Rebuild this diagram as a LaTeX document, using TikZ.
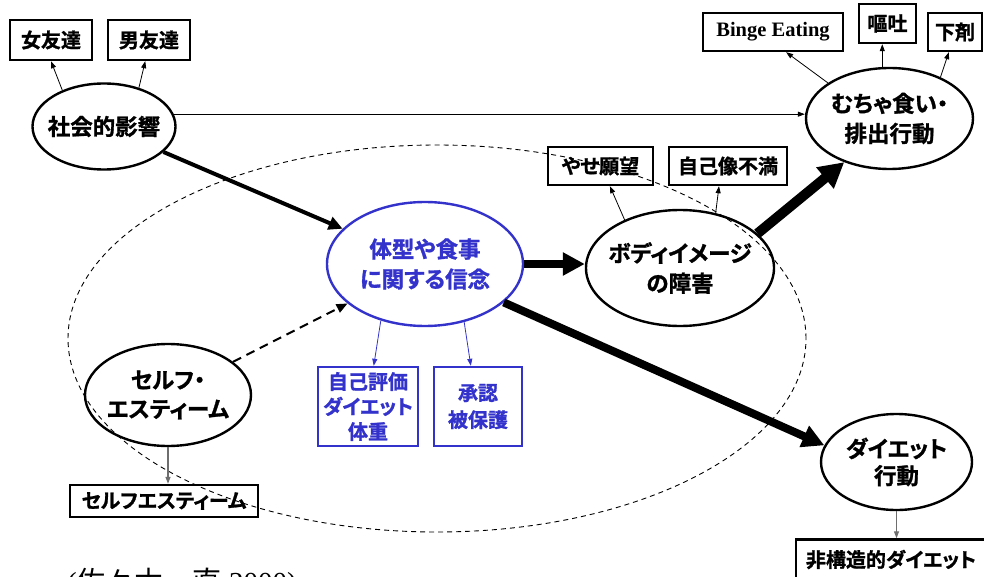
\documentclass[tikz,border=0pt]{standalone}
\usepackage{fontspec}
\usetikzlibrary{arrows.meta,shapes.geometric}
\setmainfont{Liberation Serif}
\newfontfamily\jp{Noto Sans CJK JP}[BoldFont={Noto Sans CJK JP Bold},BoldFeatures={FakeBold=1.2},RawFeature=+palt]
\newfontfamily\jpr{Noto Sans CJK JP}
\definecolor{bl}{RGB}{51,51,204}
\definecolor{gr}{RGB}{110,110,110}
\tikzset{
  ell/.style={ellipse, draw, line width=2.4pt, inner sep=0pt},
  etxt/.style={font=\jp\bfseries\fontsize{22.5}{30}\selectfont, align=center, inner sep=0pt},
  bx/.style={draw, line width=2.4pt, inner sep=0pt},
  btxt/.style={font=\jp\bfseries\fontsize{20}{25}\selectfont, align=center},
  thinarr/.style={line width=0.8pt, -{Triangle[length=7pt,width=5pt]}},
  grarr/.style={gr, line width=1.2pt, -{Triangle[length=7pt,width=5pt]}},
  arrS/.style={line width=4pt, -{Triangle[length=14pt,width=13pt]}},
  arrL/.style={line width=8pt, -{Triangle[length=22pt,width=22pt]}},
  arrXL/.style={line width=10pt, -{Triangle[length=25pt,width=26pt]}},
  dasharr/.style={line width=2pt, dash pattern=on 9pt off 6pt, -{Triangle[length=11pt,width=9pt]}},
}
\begin{document}
\begin{tikzpicture}[x=1pt,y=-1pt]
\useasboundingbox (0,0) rectangle (984,577);
% dashed region
\node[ellipse, draw, line width=0.9pt, dash pattern=on 5pt off 4pt, inner sep=0pt,
      minimum width=738pt, minimum height=387pt] (region) at (437,338.5) {};
% top-left boxes
\node[bx, minimum width=82pt, minimum height=40pt, btxt] (f1) at (51,40) {女友達};
\node[bx, minimum width=82pt, minimum height=40pt, btxt] (f2) at (149,40) {男友達};
% social influence
\node[ell, minimum width=143pt, minimum height=86pt] (soc) at (104,126.5) {};
\node[etxt] at (soc) {社会的影響};
% top right boxes
\node[bx, minimum width=140pt, minimum height=38pt, font=\bfseries\fontsize{20.5}{24}\selectfont] (binge) at (773,32) {Binge Eating};
\node[bx, minimum width=57pt, minimum height=39pt, btxt] (outo) at (887.5,23.5) {嘔吐};
\node[bx, minimum width=54pt, minimum height=38pt, btxt] (gezai) at (955,32) {下剤};
% binge/purge
\node[ell, minimum width=167pt, minimum height=101pt] (much) at (889.5,118.5) {};
\node[etxt] at (much) {むちゃ食い・\\排出行動};
% body image boxes
\node[bx, minimum width=105pt, minimum height=38pt, btxt] (yase) at (600.5,166) {やせ願望};
\node[bx, minimum width=118pt, minimum height=38pt, btxt] (jiko) at (728,166) {自己像不満};
% beliefs
\node[ell, bl, minimum width=196pt, minimum height=124pt] (bel) at (425,264) {};
\node[etxt, bl] at (bel) {体型や食事\\に関する信念};
% body image
\node[ell, minimum width=188pt, minimum height=116pt] (body) at (680,268) {};
\node[etxt] at (body) {ボディイメージ\\の障害};
% self esteem
\node[ell, minimum width=166pt, minimum height=102pt] (self) at (168,395) {};
\node[etxt, font=\jp\bfseries\fontsize{22.5}{29}\selectfont] at (self) {セルフ・\\エスティーム};
% blue boxes
\node[bx, bl, minimum width=100pt, minimum height=79pt, btxt, font=\jp\bfseries\fontsize{20}{25}\selectfont] (eval) at (368,406.5) {自己評価\\ダイエット\\体重};
\node[bx, bl, minimum width=88pt, minimum height=79pt, btxt, font=\jp\bfseries\fontsize{20}{27}\selectfont] (appr) at (478,406.5) {承認\\被保護};
% self esteem box
\node[bx, minimum width=188pt, minimum height=32pt, btxt] (sebox) at (164,501) {セルフエスティーム};
% diet
\node[ell, minimum width=151pt, minimum height=96pt] (diet) at (896.5,462) {};
\node[etxt, font=\jp\bfseries\fontsize{22.5}{27}\selectfont] at (diet) {ダイエット\\行動};
% unstructured diet
\node[bx, minimum width=190pt, minimum height=40pt, btxt] (hikou) at (891,559.5) {非構造的ダイエット};
% citation
\node[anchor=base west, inner sep=0pt, font=\fontsize{29}{30}\selectfont] (cite) at (67,592) {(\jpr 佐々木・直\rmfamily{} 2000)};
% connectors
\draw[thinarr] (soc.139) -- (f1.south);
\draw[thinarr] (soc.48) -- (f2.-100);
\draw[thinarr] (soc.10) -- (soc.10 -| much.west);
\draw[arrS] (soc) -- (bel);
\draw[thinarr] (much.150) -- (binge.-57);
\draw[thinarr] (much.98) -- (much.98 |- outo.south);
\draw[thinarr] (much.39) -- (gezai.253);
\draw[thinarr] (body.139) -- (yase.-65);
\draw[thinarr] (body.57) -- (jiko.246);
\draw[arrXL] (body.24) -- (much.224);
\draw[arrL] (bel.east) -- (bel.east -| body.west);
\draw[arrL] (bel.-26) -- (diet.167);
\draw[dasharr] (self) -- (bel);
\draw[thinarr, bl] (bel.232) -- (eval.82);
\draw[thinarr, bl] (bel.-56) -- (appr.100);
\draw[grarr] (self.south) -- (self.south |- sebox.north);
\draw[grarr] (diet.south) -- (diet.south |- hikou.north);
\end{tikzpicture}
\end{document}
